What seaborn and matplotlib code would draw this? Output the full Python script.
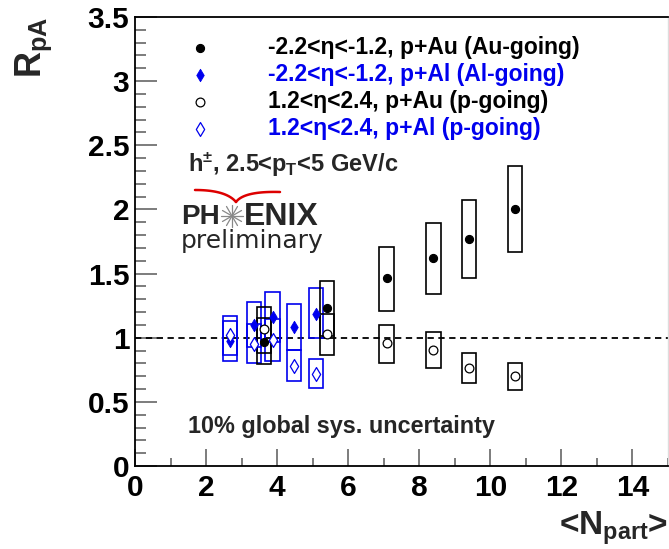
import numpy as np
import pandas as pd
import matplotlib
matplotlib.use("Agg")
import matplotlib.pyplot as plt
import seaborn as sns
from matplotlib.patches import Rectangle
from matplotlib.ticker import MultipleLocator, FuncFormatter

# p+Au, Au-going (-2.2<eta<-1.2) and p-going (1.2<eta<2.4)
au_npart = [3.63, 5.40, 7.08, 8.40, 9.39, 10.69]
au_back = [0.964, 1.229, 1.463, 1.619, 1.772, 2.001]
au_back_lo = [0.793, 1.016, 1.210, 1.341, 1.468, 1.666]
au_back_hi = [1.151, 1.442, 1.709, 1.896, 2.073, 2.338]
au_fwd = [1.068, 1.026, 0.961, 0.904, 0.761, 0.701]
au_fwd_lo = [0.883, 0.865, 0.805, 0.764, 0.644, 0.592]
au_fwd_hi = [1.237, 1.182, 1.096, 1.044, 0.883, 0.805]

# p+Al, Al-going and p-going
al_npart = [2.67, 3.35, 3.87, 4.48, 5.10]
al_back = [0.977, 1.099, 1.164, 1.086, 1.182]
al_back_lo = [0.818, 0.925, 0.970, 0.904, 0.995]
al_back_hi = [1.133, 1.281, 1.359, 1.260, 1.385]
al_fwd = [1.021, 0.949, 0.982, 0.782, 0.720]
al_fwd_lo = [0.865, 0.805, 0.818, 0.663, 0.606]
al_fwd_hi = [1.169, 1.107, 1.143, 0.904, 0.832]

labels = ["-2.2<η<-1.2, p+Au (Au-going)",
          "-2.2<η<-1.2, p+Al (Al-going)",
          "1.2<η<2.4, p+Au (p-going)",
          "1.2<η<2.4, p+Al (p-going)"]
BLUE = "#0000ee"

sns.set_theme(style="ticks")
plt.rcParams["font.family"] = ["Liberation Sans", "DejaVu Sans"]
plt.rcParams["font.weight"] = "bold"
plt.rcParams["mathtext.fontset"] = "custom"
plt.rcParams["mathtext.rm"] = "Liberation Sans:bold"
plt.rcParams["mathtext.it"] = "Liberation Sans:bold"
plt.rcParams["mathtext.bf"] = "Liberation Sans:bold"
plt.rcParams["mathtext.default"] = "rm"

fig = plt.figure(figsize=(6.69, 5.49), dpi=100)
ax = fig.add_axes([135 / 669, 83 / 549, 533 / 669, 449 / 549])


def sys_boxes(x, lo, hi, color, hw=0.2):
    for xi, l, h in zip(x, lo, hi):
        ax.add_patch(Rectangle((xi - hw, l), 2 * hw, h - l, fill=False,
                               edgecolor=color, lw=1.2, zorder=2))


sys_boxes(al_npart, al_back_lo, al_back_hi, BLUE)
sys_boxes(al_npart, al_fwd_lo, al_fwd_hi, BLUE)
sys_boxes(au_npart, au_back_lo, au_back_hi, "black")
sys_boxes(au_npart, au_fwd_lo, au_fwd_hi, "black")

ax.axhline(1.0, color="black", lw=1.3, ls=(0, (3.5, 2.5)), zorder=1)

au = pd.DataFrame({"npart": au_npart, "back": au_back, "fwd": au_fwd})
al = pd.DataFrame({"npart": al_npart, "back": al_back, "fwd": al_fwd})

sns.scatterplot(data=au, x="npart", y="back", marker="o", s=34, color="black",
                edgecolor="black", linewidth=0.8, label=labels[0], ax=ax, zorder=4)
sns.scatterplot(data=al, x="npart", y="back", marker="d", s=40, color=BLUE,
                edgecolor=BLUE, linewidth=0.6, label=labels[1], ax=ax, zorder=4)
sns.scatterplot(data=au, x="npart", y="fwd", marker="o", s=40, facecolor="white",
                edgecolor="black", linewidth=0.9, label=labels[2], ax=ax, zorder=4)
sns.scatterplot(data=al, x="npart", y="fwd", marker="d", s=50, facecolor="white",
                edgecolor=BLUE, linewidth=0.9, label=labels[3], ax=ax, zorder=4)

ax.set_xlim(0, 15)
ax.set_ylim(0, 3.5)
ax.xaxis.set_major_locator(MultipleLocator(2))
ax.xaxis.set_minor_locator(MultipleLocator(1))
ax.yaxis.set_major_locator(MultipleLocator(0.5))
ax.yaxis.set_minor_locator(MultipleLocator(0.1))
fmt = FuncFormatter(lambda v, p: "%g" % v)
ax.xaxis.set_major_formatter(fmt)
ax.yaxis.set_major_formatter(fmt)
ax.tick_params(axis="both", which="both", direction="in", colors="#666666",
               labelcolor="black", labelsize=21.5, width=1.2)
ax.tick_params(axis="y", which="major", length=16, pad=4)
ax.tick_params(axis="y", which="minor", length=8)
ax.tick_params(axis="x", which="major", length=12, pad=6)
ax.tick_params(axis="x", which="minor", length=6)
for t in ax.get_xticklabels() + ax.get_yticklabels():
    t.set_fontweight("bold")

for side in ["left", "bottom", "top"]:
    ax.spines[side].set_color("black")
    ax.spines[side].set_linewidth(1.3)
ax.spines["right"].set_color("#dddddd")
ax.spines["right"].set_linewidth(1.0)

ax.set_xlabel("<N$_{part}$>", loc="right", fontsize=24, fontweight="bold", labelpad=5)
ax.set_ylabel("R$_{pA}$", loc="top", fontsize=26, fontweight="bold", labelpad=24)

leg = ax.legend(loc="upper left", bbox_to_anchor=(0.1007, 0.958), frameon=False,
                fontsize=16.5, borderpad=0, borderaxespad=0, handlelength=1.0,
                handletextpad=2.47, labelspacing=0.18)
for txt, col in zip(leg.get_texts(), ["black", BLUE, "black", BLUE]):
    txt.set_color(col)
    txt.set_fontweight("bold")


def px(x, y):
    return ((x - 135) / 533, (466 - y) / 449)


ax.text(*px(188, 165), "h$^{\\pm}$, 2.5<p$_{T}$<5 GeV/c", transform=ax.transAxes,
        fontsize=17, fontweight="bold", va="center", ha="left")
ax.text(*px(188, 427), "10% global sys. uncertainty", transform=ax.transAxes,
        fontsize=16.8, fontweight="bold", va="center", ha="left")

# PHENIX logo
ax.text(*px(220, 217), "PH", transform=ax.transAxes, fontsize=20,
        fontweight="bold", ha="right", va="center")
ax.text(*px(244, 217), "ENIX", transform=ax.transAxes, fontsize=23,
        fontweight="bold", ha="left", va="center")
ax.text(*px(181, 241), "preliminary", transform=ax.transAxes, fontsize=18,
        fontweight="normal", family="DejaVu Sans", ha="left", va="center")
cx, cy = px(232, 216)
for ang in np.linspace(0, np.pi, 7)[:-1]:
    dx, dy = 11 * np.cos(ang) / 533, 11 * np.sin(ang) / 449
    ax.plot([cx - dx, cx + dx], [cy - dy, cy + dy], transform=ax.transAxes,
            color="#888888", lw=0.9)
t = np.linspace(0, 1, 30)
for p0, p1, p2 in [((195, 190), (226, 190), (236, 202)),
                   ((236, 202), (244, 191), (280, 192))]:
    bx = (1 - t) ** 2 * p0[0] + 2 * (1 - t) * t * p1[0] + t ** 2 * p2[0]
    by = (1 - t) ** 2 * p0[1] + 2 * (1 - t) * t * p1[1] + t ** 2 * p2[1]
    xy = [px(a, b) for a, b in zip(bx, by)]
    ax.plot([q[0] for q in xy], [q[1] for q in xy], transform=ax.transAxes,
            color="#dd0000", lw=1.8, solid_capstyle="round")

fig.savefig("out.png", dpi=100)
